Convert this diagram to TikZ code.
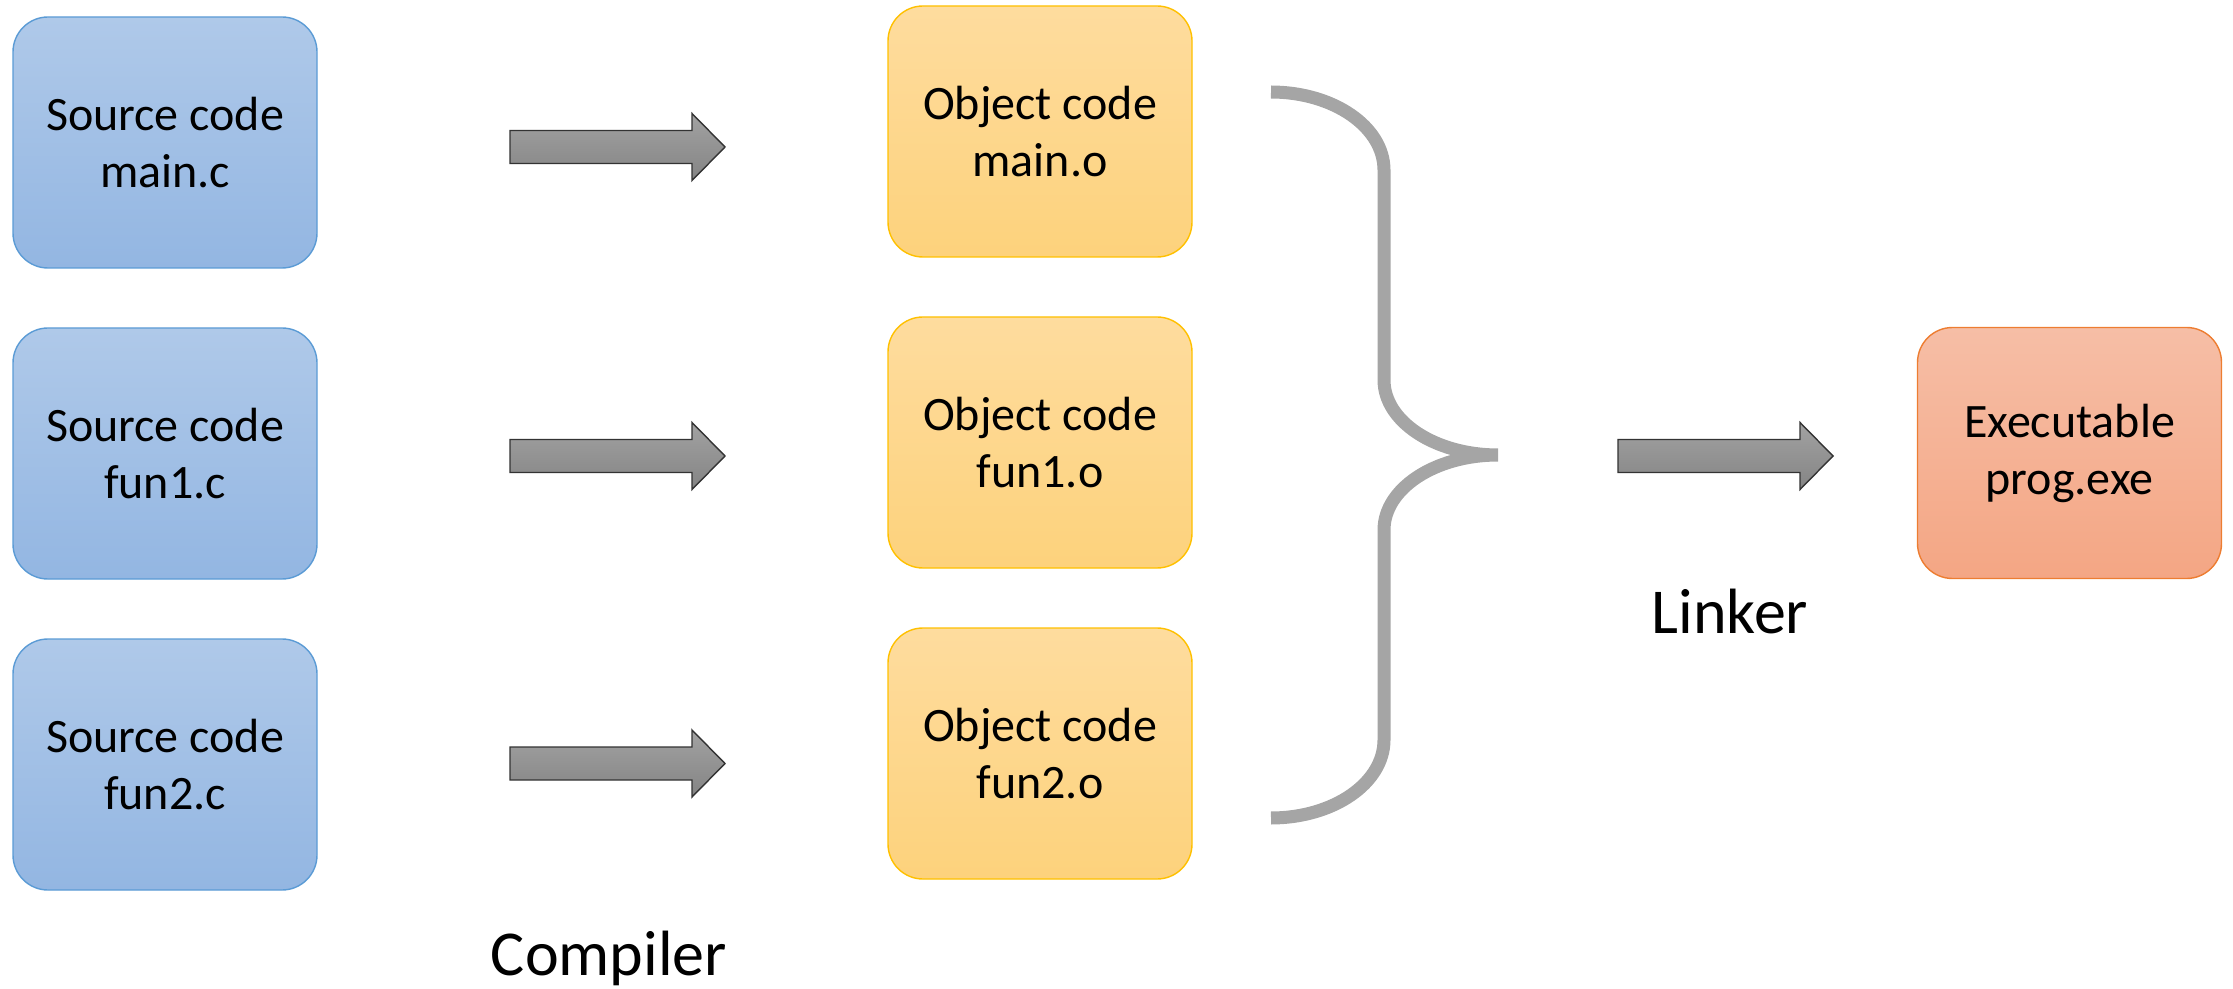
\documentclass[tikz,border=0pt]{standalone}
\usepackage{fontspec}
\setmainfont{Carlito}
\definecolor{srcTop}{HTML}{AFC9E9}
\definecolor{srcBot}{HTML}{93B6E2}
\definecolor{srcLine}{HTML}{5B9BD5}
\definecolor{objTop}{HTML}{FEDC9E}
\definecolor{objBot}{HTML}{FDD27C}
\definecolor{objLine}{HTML}{FFC000}
\definecolor{exeTop}{HTML}{F6BEA6}
\definecolor{exeBot}{HTML}{F4A684}
\definecolor{exeLine}{HTML}{ED7D31}
\definecolor{arrTop}{HTML}{A2A2A2}
\definecolor{arrBot}{HTML}{848484}
\definecolor{braceGray}{HTML}{A5A5A5}
\tikzset{
  box/.style={rectangle, rounded corners=17.5pt, line width=0.7pt,
    minimum width=152pt, minimum height=125.5pt, inner sep=0pt,
    align=center, font=\fontsize{24}{28.5}\selectfont},
  srcbox/.style={box, draw=srcLine, top color=srcTop, bottom color=srcBot},
  objbox/.style={box, draw=objLine, top color=objTop, bottom color=objBot},
  exebox/.style={box, draw=exeLine, top color=exeTop, bottom color=exeBot},
  stagelabel/.style={font=\fontsize{32}{38}\selectfont, anchor=base, inner sep=0pt},
  arrowbody/.style={draw=black!80, line width=0.7pt, top color=arrTop, bottom color=arrBot},
  blockarrow/.pic={
    \path[arrowbody] (0,-16.5) -- (182,-16.5) -- (182,-33.5) -- (215,0)
      -- (182,33.5) -- (182,16.5) -- (0,16.5) -- cycle;
  },
  bracestroke/.style={draw=braceGray, line width=6.5pt}
}
\begin{document}
\begin{tikzpicture}[x=0.5pt, y=-0.5pt]
\useasboundingbox (0,0) rectangle (2233,989);

% source files
\node[srcbox] (src1) at (165,142.5) {Source code\\main.c};
\node[srcbox] (src2) at (165,453.5) {Source code\\fun1.c};
\node[srcbox] (src3) at (165,764.5) {Source code\\fun2.c};

% object files
\node[objbox] (obj1) at (1040,131.5) {Object code\\main.o};
\node[objbox] (obj2) at (1040,442.5) {Object code\\fun1.o};
\node[objbox] (obj3) at (1040,753.5) {Object code\\fun2.o};

% executable
\node[exebox] (exe) at (2069.5,453) {Executable\\prog.exe};

% compile step arrows
\pic at (510,147) {blockarrow};
\pic at (510,456) {blockarrow};
\pic at (510,763.5) {blockarrow};

% link step arrow
\pic at (1618,456) {blockarrow};

% brace gathering the object files
\draw[bracestroke]
  (1271,92) .. controls (1333.4,92) and (1384,126.9) .. (1384,170)
  -- (1384,380)
  .. controls (1384,421.4) and (1435,455) .. (1498,455)
  .. controls (1435,455) and (1384,488.6) .. (1384,530)
  -- (1384,740)
  .. controls (1384,783.1) and (1333.4,818) .. (1271,818);

% stage labels
\node[stagelabel] (compiler) at (609,975) {Compiler};
\node[stagelabel] (linker) at (1730,633) {Linker};
\end{tikzpicture}
\end{document}
